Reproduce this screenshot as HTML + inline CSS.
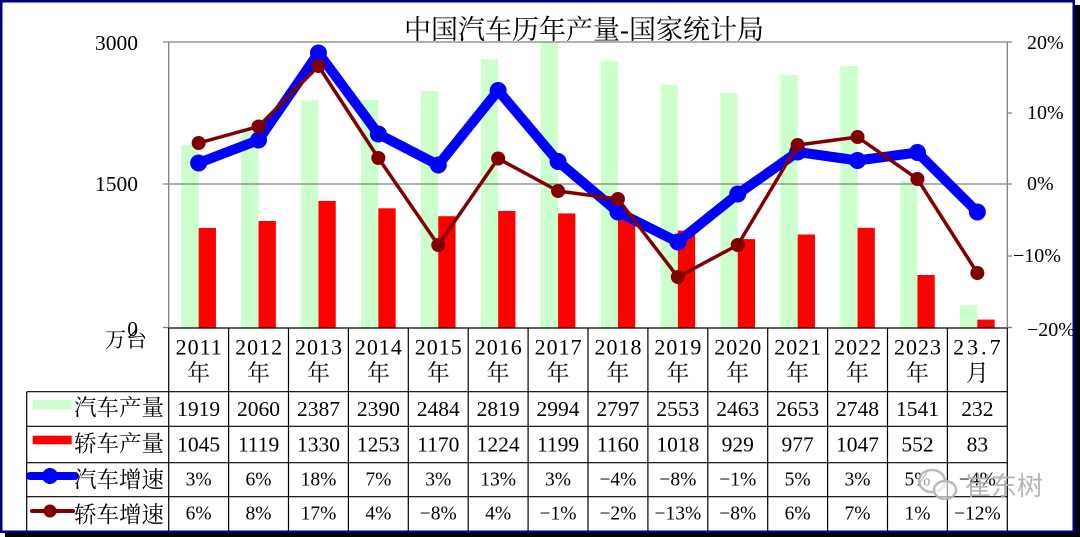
<!DOCTYPE html>
<html><head><meta charset="utf-8"><style>
html,body{margin:0;padding:0;background:#fff;width:1080px;height:537px;overflow:hidden}
svg{display:block}
text{font-family:"Liberation Serif","Noto Serif CJK SC",serif;fill:#000}
.cj{font-family:"Liberation Serif","Noto Serif CJK SC",serif}
</style></head><body>
<svg width="1080" height="537" viewBox="0 0 1080 537" xmlns="http://www.w3.org/2000/svg">
<rect x="0" y="0" width="1080" height="537" fill="#fff"/>

<!-- bars green -->
<g fill="#CCFFCC">
<rect x="181.35" y="144.9" width="17.3" height="182.6"/>
<rect x="241.25" y="131.4" width="17.3" height="196.1"/>
<rect x="301.15" y="100.3" width="17.3" height="227.2"/>
<rect x="361.05" y="100.0" width="17.3" height="227.5"/>
<rect x="420.95" y="91.1" width="17.3" height="236.4"/>
<rect x="480.85" y="59.2" width="17.3" height="268.3"/>
<rect x="540.75" y="42.6" width="17.3" height="284.9"/>
<rect x="600.65" y="61.3" width="17.3" height="266.2"/>
<rect x="660.55" y="84.5" width="17.3" height="243.0"/>
<rect x="720.45" y="93.1" width="17.3" height="234.4"/>
<rect x="780.35" y="75.0" width="17.3" height="252.5"/>
<rect x="840.25" y="66.0" width="17.3" height="261.5"/>
<rect x="900.15" y="180.8" width="17.3" height="146.7"/>
<rect x="960.05" y="305.4" width="17.3" height="22.1"/>
</g>
<!-- bars red -->
<g fill="#FF0000">
<rect x="198.65" y="228.0" width="17.3" height="99.5"/>
<rect x="258.55" y="221.0" width="17.3" height="106.5"/>
<rect x="318.45" y="200.9" width="17.3" height="126.6"/>
<rect x="378.35" y="208.3" width="17.3" height="119.2"/>
<rect x="438.25" y="216.2" width="17.3" height="111.3"/>
<rect x="498.15" y="211.0" width="17.3" height="116.5"/>
<rect x="558.05" y="213.4" width="17.3" height="114.1"/>
<rect x="617.95" y="217.1" width="17.3" height="110.4"/>
<rect x="677.85" y="230.6" width="17.3" height="96.9"/>
<rect x="737.75" y="239.1" width="17.3" height="88.4"/>
<rect x="797.65" y="234.5" width="17.3" height="93.0"/>
<rect x="857.55" y="227.9" width="17.3" height="99.6"/>
<rect x="917.45" y="275.0" width="17.3" height="52.5"/>
<rect x="977.35" y="319.6" width="17.3" height="7.9"/>
</g>

<!-- plot frame gray -->
<g stroke="#808080" stroke-width="1.3" fill="none">
<line x1="163" y1="42" x2="1012" y2="42"/>
<line x1="163" y1="184" x2="1012" y2="184"/>
<line x1="168.7" y1="42" x2="168.7" y2="328"/>
<line x1="1007.3" y1="42" x2="1007.3" y2="328"/>
<line x1="1007.3" y1="113" x2="1012" y2="113"/>
<line x1="1007.3" y1="256" x2="1012" y2="256"/>
<line x1="1007.3" y1="327.5" x2="1012" y2="327.5"/>
<line x1="163" y1="327.5" x2="168.7" y2="327.5"/>
</g>

<!-- blue line -->
<polyline fill="none" stroke="#0000FF" stroke-width="10" stroke-linejoin="round" stroke-linecap="round"
points="198.65,163 258.55,140 318.45,53 378.35,134 438.25,165 498.15,90.5 558.05,161.5 617.95,212 677.85,242 737.75,194 797.65,152 857.55,160.5 917.45,152.5 977.35,212"/>
<g fill="#0000FF">
<circle cx="198.65" cy="163" r="8.5"/><circle cx="258.55" cy="140" r="8.5"/><circle cx="318.45" cy="53" r="8.5"/>
<circle cx="378.35" cy="134" r="8.5"/><circle cx="438.25" cy="165" r="8.5"/><circle cx="498.15" cy="90.5" r="8.5"/>
<circle cx="558.05" cy="161.5" r="8.5"/><circle cx="617.95" cy="212" r="8.5"/><circle cx="677.85" cy="242" r="8.5"/>
<circle cx="737.75" cy="194" r="8.5"/><circle cx="797.65" cy="152" r="8.5"/><circle cx="857.55" cy="160.5" r="8.5"/>
<circle cx="917.45" cy="152.5" r="8.5"/><circle cx="977.35" cy="212" r="8.5"/>
</g>
<!-- maroon line -->
<polyline fill="none" stroke="#800000" stroke-width="3.5" stroke-linejoin="round"
points="198.65,143 258.55,126.5 318.45,66 378.35,158 438.25,245 498.15,158.5 558.05,191 617.95,199 677.85,277 737.75,245 797.65,145 857.55,137 917.45,179 977.35,273"/>
<g fill="#800000">
<circle cx="198.65" cy="143" r="7"/><circle cx="258.55" cy="126.5" r="7"/><circle cx="318.45" cy="66" r="7"/>
<circle cx="378.35" cy="158" r="7"/><circle cx="438.25" cy="245" r="7"/><circle cx="498.15" cy="158.5" r="7"/>
<circle cx="558.05" cy="191" r="7"/><circle cx="617.95" cy="199" r="7"/><circle cx="677.85" cy="277" r="7"/>
<circle cx="737.75" cy="245" r="7"/><circle cx="797.65" cy="145" r="7"/><circle cx="857.55" cy="137" r="7"/>
<circle cx="917.45" cy="179" r="7"/><circle cx="977.35" cy="273" r="7"/>
</g>

<!-- title -->
<text x="584" y="30" font-size="27" text-anchor="middle" dominant-baseline="central" class="cj">中国汽车历年产量-国家统计局</text>

<!-- left axis labels -->
<g font-size="21.5" text-anchor="end" dominant-baseline="central">
<text x="138" y="43">3000</text>
<text x="138" y="184">1500</text>
<text x="138" y="329">0</text>
</g>
<text x="105" y="340" font-size="21" dominant-baseline="central" class="cj">万台</text>

<!-- right axis labels -->
<g font-size="20" dominant-baseline="central">
<text x="1027" y="43">20%</text>
<text x="1027" y="113">10%</text>
<text x="1027" y="184">0%</text>
<text x="1013" y="256">−10%</text>
<text x="1027" y="330">−20%</text>
</g>

<!-- table lines -->
<g stroke="#000" stroke-width="1.2" fill="none">
<line x1="168.7" y1="328" x2="1007.3" y2="328"/>
<line x1="26.7" y1="391.7" x2="1007.3" y2="391.7"/>
<line x1="26.7" y1="426.3" x2="1007.3" y2="426.3"/>
<line x1="26.7" y1="462.7" x2="1007.3" y2="462.7"/>
<line x1="26.7" y1="496.7" x2="1007.3" y2="496.7"/>
<line x1="26.7" y1="391.7" x2="26.7" y2="531"/>
<line x1="168.7" y1="328" x2="168.7" y2="531"/>
<line x1="228.6" y1="328" x2="228.6" y2="531"/>
<line x1="288.5" y1="328" x2="288.5" y2="531"/>
<line x1="348.4" y1="328" x2="348.4" y2="531"/>
<line x1="408.3" y1="328" x2="408.3" y2="531"/>
<line x1="468.2" y1="328" x2="468.2" y2="531"/>
<line x1="528.1" y1="328" x2="528.1" y2="531"/>
<line x1="588.0" y1="328" x2="588.0" y2="531"/>
<line x1="647.9" y1="328" x2="647.9" y2="531"/>
<line x1="707.8" y1="328" x2="707.8" y2="531"/>
<line x1="767.7" y1="328" x2="767.7" y2="531"/>
<line x1="827.6" y1="328" x2="827.6" y2="531"/>
<line x1="887.5" y1="328" x2="887.5" y2="531"/>
<line x1="947.4" y1="328" x2="947.4" y2="531"/>
<line x1="1007.3" y1="328" x2="1007.3" y2="531"/>
</g>

<!-- legend keys -->
<rect x="32.7" y="400" width="39" height="9.3" fill="#CCFFCC"/>
<rect x="32.7" y="435.7" width="39" height="8.6" fill="#FF0000"/>
<line x1="30" y1="476" x2="75" y2="476" stroke="#0000FF" stroke-width="8" stroke-linecap="round"/>
<circle cx="50" cy="476" r="8" fill="#0000FF"/>
<line x1="32" y1="511" x2="73" y2="511" stroke="#800000" stroke-width="4" stroke-linecap="round"/>
<circle cx="50" cy="511" r="6.5" fill="#800000"/>

<g font-size="22.5" dominant-baseline="central" class="cj">
<text x="74" y="408">汽车产量</text>
<text x="74" y="444">轿车产量</text>
<text x="74" y="480">汽车增速</text>
<text x="74" y="515">轿车增速</text>
</g>

<!-- header years -->
<g font-size="22" text-anchor="middle" dominant-baseline="central" letter-spacing="1">
<text x="199.2" y="347">2011</text><text x="259.1" y="347">2012</text><text x="319" y="347">2013</text>
<text x="378.9" y="347">2014</text><text x="438.8" y="347">2015</text><text x="498.7" y="347">2016</text>
<text x="558.6" y="347">2017</text><text x="618.5" y="347">2018</text><text x="678.4" y="347">2019</text>
<text x="738.3" y="347">2020</text><text x="798.2" y="347">2021</text><text x="858.1" y="347">2022</text>
<text x="918" y="347">2023</text><text x="978.4" y="347" letter-spacing="3">23.7</text>
</g>
<g font-size="23" text-anchor="middle" dominant-baseline="central" class="cj">
<text x="198.65" y="373">年</text><text x="258.55" y="373">年</text><text x="318.45" y="373">年</text>
<text x="378.35" y="373">年</text><text x="438.25" y="373">年</text><text x="498.15" y="373">年</text>
<text x="558.05" y="373">年</text><text x="617.95" y="373">年</text><text x="677.85" y="373">年</text>
<text x="737.75" y="373">年</text><text x="797.65" y="373">年</text><text x="857.55" y="373">年</text>
<text x="917.45" y="373">年</text><text x="977.35" y="373">月</text>
</g>

<!-- data rows -->
<g font-size="21.5" text-anchor="middle" dominant-baseline="central">
<text x="198.65" y="409">1919</text><text x="258.55" y="409">2060</text><text x="318.45" y="409">2387</text>
<text x="378.35" y="409">2390</text><text x="438.25" y="409">2484</text><text x="498.15" y="409">2819</text>
<text x="558.05" y="409">2994</text><text x="617.95" y="409">2797</text><text x="677.85" y="409">2553</text>
<text x="737.75" y="409">2463</text><text x="797.65" y="409">2653</text><text x="857.55" y="409">2748</text>
<text x="917.45" y="409">1541</text><text x="977.35" y="409">232</text>

<text x="198.65" y="444.5">1045</text><text x="258.55" y="444.5">1119</text><text x="318.45" y="444.5">1330</text>
<text x="378.35" y="444.5">1253</text><text x="438.25" y="444.5">1170</text><text x="498.15" y="444.5">1224</text>
<text x="558.05" y="444.5">1199</text><text x="617.95" y="444.5">1160</text><text x="677.85" y="444.5">1018</text>
<text x="737.75" y="444.5">929</text><text x="797.65" y="444.5">977</text><text x="857.55" y="444.5">1047</text>
<text x="917.45" y="444.5">552</text><text x="977.35" y="444.5">83</text>
</g>
<g font-size="19.5" text-anchor="middle" dominant-baseline="central">
<text x="198.65" y="480">3%</text><text x="258.55" y="480">6%</text><text x="318.45" y="480">18%</text>
<text x="378.35" y="480">7%</text><text x="438.25" y="480">3%</text><text x="498.15" y="480">13%</text>
<text x="558.05" y="480">3%</text><text x="617.95" y="480">−4%</text><text x="677.85" y="480">−8%</text>
<text x="737.75" y="480">−1%</text><text x="797.65" y="480">5%</text><text x="857.55" y="480">3%</text>
<text x="917.45" y="480">5%</text><text x="977.35" y="480">−4%</text>

<text x="198.65" y="514">6%</text><text x="258.55" y="514">8%</text><text x="318.45" y="514">17%</text>
<text x="378.35" y="514">4%</text><text x="438.25" y="514">−8%</text><text x="498.15" y="514">4%</text>
<text x="558.05" y="514">−1%</text><text x="617.95" y="514">−2%</text><text x="677.85" y="514">−13%</text>
<text x="737.75" y="514">−8%</text><text x="797.65" y="514">6%</text><text x="857.55" y="514">7%</text>
<text x="917.45" y="514">1%</text><text x="977.35" y="514">−12%</text>
</g>

<!-- watermark -->
<g opacity="0.9">
<ellipse cx="932" cy="481" rx="13" ry="11" fill="#fff" fill-opacity="0.7" stroke="#b4b4b4" stroke-width="2.5"/>
<ellipse cx="945" cy="490" rx="11" ry="9" fill="#fff" fill-opacity="0.7" stroke="#b4b4b4" stroke-width="2.5"/>
<text x="965" y="486" font-size="26" dominant-baseline="central" style="font-family:'Liberation Sans','Noto Sans CJK SC',sans-serif;fill:#adadad">崔东树</text>
</g>

<!-- frame + shadow -->
<rect x="1075" y="5" width="5" height="532" fill="#000"/>
<rect x="5" y="533" width="1075" height="4" fill="#000"/>
<rect x="1.25" y="1.25" width="1072.5" height="530.5" fill="none" stroke="#000080" stroke-width="2.5"/>
</svg>
</body></html>
